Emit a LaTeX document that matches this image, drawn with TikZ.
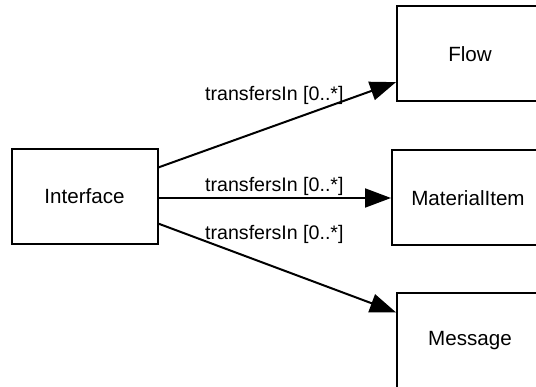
\documentclass[tikz,border=0pt]{standalone}
\usepackage{fontspec}
\setmainfont{Liberation Sans}
\usepackage{tikz}
\usetikzlibrary{arrows.meta, positioning, calc}
\tikzset{
  classbox/.style={rectangle, draw=black, fill=white, line width=2pt,
    minimum width=146pt, minimum height=95pt, inner sep=0pt,
    font=\fontsize{20.6}{24}\selectfont},
  assoc/.style={-{Triangle[length=26pt, width=19pt]}, line width=2pt, color=black},
  rolelabel/.style={font=\fontsize{19.6}{23}\selectfont, inner sep=0pt, anchor=west}
}
\begin{document}
\begin{tikzpicture}[x=1pt, y=-1pt]
  \useasboundingbox (0,0) rectangle (536,387);
  \clip (0,0) rectangle (536,387);
  \node[classbox] (iface) at (84.5,196.5) {Interface};
  \node[classbox] (flow) at (470,54) {Flow};
  \node[classbox, minimum width=152pt] (item) at (468,198) {MaterialItem};
  \node[classbox] (msg) at (470,340.5) {Message};
  % associations
  \draw[assoc] ($(iface.north east)!0.2!(iface.south east)$) -- ($(flow.north west)!0.79!(flow.south west)$);
  \draw[assoc] (iface.east |- item.west) -- (item.west);
  \draw[assoc] ($(iface.north east)!0.78!(iface.south east)$) -- ($(msg.north west)!0.21!(msg.south west)$);
  \node[rolelabel] (lab1) at (205,95) {transfersIn [0..*]};
  \node[rolelabel] (lab2) at (205,186) {transfersIn [0..*]};
  \node[rolelabel] (lab3) at (205,234) {transfersIn [0..*]};
\end{tikzpicture}
\end{document}
